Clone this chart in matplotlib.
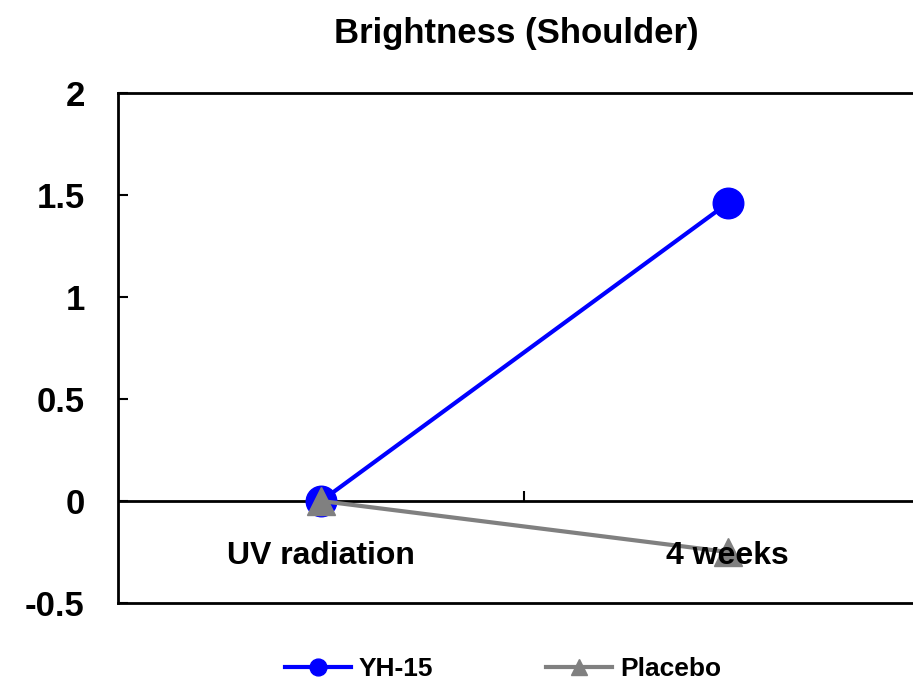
import matplotlib
matplotlib.use("Agg")
import matplotlib.pyplot as plt

plt.rcParams['font.family'] = ['Liberation Sans', 'DejaVu Sans']
plt.rcParams['font.weight'] = 'bold'

categories = ["UV radiation", "4 weeks"]
yh15 = [0.0, 1.46]
placebo = [0.0, -0.25]
yticks = [-0.5, 0, 0.5, 1, 1.5, 2]
ytick_labels = ["-0.5", "0", "0.5", "1", "1.5", "2"]

fig = plt.figure(figsize=(9.13, 6.86), dpi=100)
ax = fig.add_axes([0.1292, 0.121, 0.8905, 0.7434])

xpos = [0.5, 1.5]
l1, = ax.plot(xpos, yh15, color='#0000ff', lw=3, marker='o', markersize=22, label='YH-15', zorder=3)
l2, = ax.plot(xpos, placebo, color='#808080', lw=3, marker='^', markersize=20, label='Placebo', zorder=4)

ax.set_xlim(0, 2)
ax.set_ylim(-0.5, 2)
ax.set_yticks(yticks)
ax.set_yticklabels(ytick_labels)
ax.tick_params(axis='y', direction='in', length=7, width=1.5, pad=24, labelsize=25)
ax.set_xticks([])
for s in ax.spines.values():
    s.set_linewidth(2)

# zero line with category labels under it
ax.axhline(0, color='black', lw=2, zorder=2)
sec = ax.secondary_xaxis(0.2)
sec.set_zorder(6)
sec.spines['bottom'].set_visible(False)
sec.set_xticks(xpos)
sec.set_xticklabels(categories)
sec.set_xticks([1], minor=True)
sec.tick_params(axis='x', which='major', length=0, pad=29, labelsize=23)
sec.tick_params(axis='x', which='minor', direction='in', length=7, width=1.5)

fig.text(516 / 913, 1 - 34 / 686, "Brightness (Shoulder)", ha='center', va='center',
         fontsize=25, fontweight='bold')

fig.legend(handles=[l1, l2], loc='center', bbox_to_anchor=(503 / 913, 1 - 669 / 686),
           ncol=2, frameon=False, fontsize=19, markerscale=0.55, handlelength=2.5,
           handletextpad=0.3, columnspacing=4.3)

fig.savefig("out.png", dpi=100)
